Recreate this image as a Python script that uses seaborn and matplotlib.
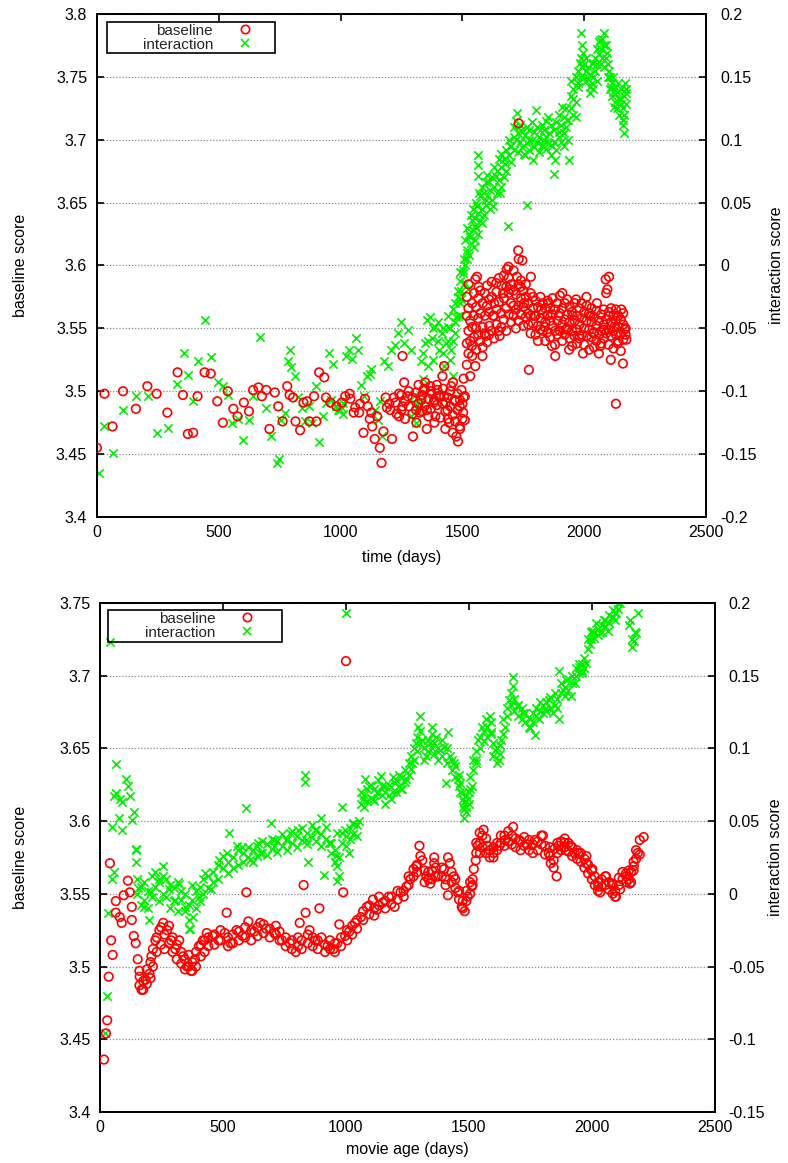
import matplotlib
matplotlib.use("Agg")
import matplotlib.pyplot as plt
from matplotlib.lines import Line2D
from matplotlib.patches import Rectangle
from matplotlib.ticker import FormatStrFormatter
import seaborn as sns
import pandas as pd

# ---------------------------------------------------------------- data
# top panel: (time in days, baseline score)
top_baseline = [
    (0, 3.455), (31, 3.498), (64, 3.472), (107, 3.500), (160, 3.486), (207, 3.504),
    (245, 3.498), (289, 3.483), (331, 3.515), (353, 3.497), (373, 3.466), (395, 3.467),
    (413, 3.496), (442, 3.515), (467, 3.514), (494, 3.492), (517, 3.475), (537, 3.500),
    (560, 3.486), (577, 3.480), (603, 3.491), (624, 3.484), (641, 3.501), (663, 3.503),
    (677, 3.496), (695, 3.501), (708, 3.470), (730, 3.499), (744, 3.488), (762, 3.476),
    (781, 3.504), (791, 3.497), (805, 3.495), (815, 3.476), (834, 3.469), (848, 3.491),
    (862, 3.492), (872, 3.476), (891, 3.496), (901, 3.476), (912, 3.515), (933, 3.511),
    (940, 3.495), (958, 3.491), (983, 3.488), (1005, 3.491), (1019, 3.496), (1037, 3.498),
    (1040, 3.494), (1054, 3.483), (1060, 3.487), (1076, 3.483), (1080, 3.490), (1094, 3.467),
    (1100, 3.494), (1111, 3.488), (1120, 3.478), (1126, 3.483), (1130, 3.472), (1140, 3.462),
    (1150, 3.480), (1161, 3.455), (1168, 3.443), (1176, 3.468), (1185, 3.495), (1190, 3.487),
    (1200, 3.490), (1204, 3.485), (1211, 3.462), (1218, 3.495), (1226, 3.491), (1230, 3.482),
    (1240, 3.480), (1240, 3.498), (1250, 3.497), (1250, 3.485), (1254, 3.528), (1254, 3.488),
    (1261, 3.507), (1265, 3.492), (1265, 3.478), (1275, 3.496), (1280, 3.488), (1280, 3.500),
    (1295, 3.495), (1295, 3.482), (1297, 3.464), (1310, 3.499), (1310, 3.485), (1311, 3.475),
    (1320, 3.490), (1320, 3.505), (1325, 3.483), (1332, 3.493), (1335, 3.497), (1335, 3.484),
    (1340, 3.501), (1345, 3.502), (1345, 3.488), (1347, 3.507), (1354, 3.485), (1354, 3.470),
    (1360, 3.494), (1360, 3.480), (1368, 3.504), (1370, 3.500), (1370, 3.486), (1375, 3.498),
    (1382, 3.491), (1385, 3.493), (1385, 3.475), (1389, 3.480), (1395, 3.505), (1395, 3.489),
    (1397, 3.501), (1404, 3.496), (1410, 3.497), (1410, 3.479), (1418, 3.512), (1420, 3.490),
    (1420, 3.502), (1425, 3.520), (1425, 3.496), (1430, 3.484), (1430, 3.470), (1432, 3.491),
    (1439, 3.485), (1440, 3.495), (1440, 3.478), (1446, 3.475), (1450, 3.488), (1450, 3.500),
    (1454, 3.504), (1460, 3.481), (1460, 3.467), (1461, 3.507), (1468, 3.493), (1470, 3.492),
    (1470, 3.476), (1475, 3.464), (1480, 3.485), (1480, 3.498), (1482, 3.460), (1489, 3.488),
    (1489, 3.472), (1490, 3.493), (1490, 3.470), (1496, 3.501), (1500, 3.478), (1500, 3.490),
    (1503, 3.483), (1505, 3.510), (1505, 3.495), (1510, 3.496), (1510, 3.477),
    (1518, 3.560), (1518, 3.538), (1518, 3.575), (1518, 3.521), (1525, 3.548), (1525, 3.585),
    (1525, 3.530), (1525, 3.566), (1532, 3.556), (1532, 3.540), (1532, 3.512), (1539, 3.536),
    (1540, 3.570), (1540, 3.528), (1540, 3.551), (1546, 3.560), (1548, 3.543), (1548, 3.578),
    (1553, 3.520), (1553, 3.589), (1556, 3.533), (1556, 3.567), (1556, 3.550), (1560, 3.591),
    (1565, 3.574), (1565, 3.545), (1565, 3.558), (1567, 3.583), (1574, 3.540), (1574, 3.562),
    (1574, 3.580), (1582, 3.528), (1583, 3.551), (1583, 3.570), (1583, 3.535), (1592, 3.560),
    (1592, 3.578), (1592, 3.546), (1596, 3.544), (1601, 3.568), (1601, 3.539), (1601, 3.584),
    (1610, 3.552), (1610, 3.563), (1610, 3.573), (1610, 3.545), (1620, 3.575), (1620, 3.548),
    (1620, 3.587), (1625, 3.560), (1630, 3.560), (1630, 3.542), (1630, 3.570), (1639, 3.586),
    (1640, 3.553), (1640, 3.579), (1640, 3.565), (1650, 3.571), (1650, 3.548), (1650, 3.590),
    (1653, 3.544), (1660, 3.562), (1660, 3.584), (1660, 3.551), (1667, 3.578), (1670, 3.574),
    (1670, 3.557), (1670, 3.592), (1680, 3.566), (1680, 3.583), (1680, 3.548), (1682, 3.597),
    (1689, 3.599), (1690, 3.578), (1690, 3.561), (1690, 3.590), (1696, 3.581), (1700, 3.570),
    (1700, 3.555), (1700, 3.585), (1710, 3.580), (1710, 3.560), (1710, 3.596), (1710, 3.568),
    (1720, 3.565), (1720, 3.577), (1720, 3.550), (1724, 3.591), (1729, 3.612), (1730, 3.585),
    (1730, 3.568), (1730, 3.556), (1731, 3.713), (1731, 3.605), (1739, 3.583), (1740, 3.574),
    (1740, 3.561), (1740, 3.588), (1746, 3.604), (1750, 3.567), (1750, 3.580), (1750, 3.552),
    (1753, 3.570), (1760, 3.559), (1760, 3.575), (1760, 3.585), (1770, 3.570), (1770, 3.553),
    (1770, 3.562), (1773, 3.517), (1780, 3.578), (1780, 3.560), (1780, 3.546), (1781, 3.591),
    (1790, 3.566), (1790, 3.554), (1790, 3.575), (1796, 3.560), (1800, 3.560), (1800, 3.572),
    (1800, 3.545), (1810, 3.567), (1810, 3.552), (1810, 3.540), (1820, 3.575), (1820, 3.558),
    (1820, 3.549), (1824, 3.565), (1830, 3.562), (1830, 3.548), (1830, 3.570), (1838, 3.551),
    (1840, 3.555), (1840, 3.566), (1840, 3.540), (1850, 3.572), (1850, 3.560), (1850, 3.547),
    (1853, 3.570), (1860, 3.556), (1860, 3.566), (1860, 3.543), (1867, 3.536), (1870, 3.561),
    (1870, 3.552), (1870, 3.574), (1880, 3.548), (1880, 3.565), (1880, 3.537), (1881, 3.528),
    (1890, 3.570), (1890, 3.556), (1890, 3.545), (1895, 3.560), (1900, 3.562), (1900, 3.548),
    (1900, 3.576), (1910, 3.553), (1910, 3.566), (1910, 3.540), (1910, 3.578), (1920, 3.570),
    (1920, 3.557), (1920, 3.545), (1924, 3.549), (1930, 3.561), (1930, 3.550), (1930, 3.573),
    (1938, 3.533), (1940, 3.555), (1940, 3.542), (1940, 3.567), (1950, 3.563), (1950, 3.548),
    (1950, 3.536), (1952, 3.560), (1960, 3.570), (1960, 3.556), (1960, 3.544), (1967, 3.573),
    (1970, 3.560), (1970, 3.549), (1970, 3.538), (1980, 3.566), (1980, 3.553), (1980, 3.542),
    (1981, 3.544), (1990, 3.558), (1990, 3.545), (1990, 3.570), (1995, 3.530), (2000, 3.563),
    (2000, 3.550), (2000, 3.537), (2009, 3.575), (2010, 3.556), (2010, 3.544), (2010, 3.568),
    (2020, 3.562), (2020, 3.549), (2020, 3.533), (2024, 3.560), (2030, 3.555), (2030, 3.543),
    (2030, 3.566), (2038, 3.546), (2040, 3.559), (2040, 3.547), (2040, 3.535), (2050, 3.564),
    (2050, 3.552), (2050, 3.540), (2052, 3.570), (2060, 3.556), (2060, 3.545), (2060, 3.530),
    (2066, 3.536), (2070, 3.561), (2070, 3.548), (2070, 3.538), (2080, 3.553), (2080, 3.565),
    (2080, 3.542), (2081, 3.549), (2088, 3.589), (2090, 3.578), (2090, 3.557), (2090, 3.546),
    (2095, 3.581), (2100, 3.560), (2100, 3.549), (2100, 3.537), (2102, 3.591), (2102, 3.563),
    (2109, 3.525), (2110, 3.555), (2110, 3.544), (2110, 3.566), (2120, 3.560), (2120, 3.548),
    (2120, 3.534), (2123, 3.551), (2130, 3.490), (2130, 3.556), (2130, 3.545), (2130, 3.565),
    (2138, 3.538), (2140, 3.551), (2140, 3.540), (2140, 3.560), (2150, 3.557), (2150, 3.546),
    (2150, 3.532), (2152, 3.565), (2159, 3.522), (2160, 3.553), (2160, 3.541), (2160, 3.562),
    (2166, 3.549), (2170, 3.550), (2170, 3.545), (2173, 3.541),
]

# top panel: (time in days, interaction score)
top_interaction = [
    (7, -0.165), (31, -0.128), (64, -0.149), (107, -0.115), (160, -0.104), (211, -0.104),
    (245, -0.133), (292, -0.129), (328, -0.094), (356, -0.070), (373, -0.087), (395, -0.108),
    (416, -0.076), (442, -0.043), (467, -0.073), (496, -0.093), (516, -0.096), (539, -0.103),
    (556, -0.125), (577, -0.122), (599, -0.139), (623, -0.123), (641, -0.104), (670, -0.057),
    (694, -0.113), (713, -0.136), (741, -0.157), (748, -0.154), (755, -0.123), (770, -0.117),
    (784, -0.076), (791, -0.067), (798, -0.081), (812, -0.088), (827, -0.105), (841, -0.113),
    (855, -0.124), (869, -0.112), (884, -0.125), (901, -0.096), (912, -0.140), (926, -0.120),
    (940, -0.109), (952, -0.070), (962, -0.107), (969, -0.078), (983, -0.112), (990, -0.115),
    (998, -0.115), (1005, -0.113), (1010, -0.118), (1012, -0.109), (1023, -0.072), (1033, -0.067),
    (1047, -0.074), (1062, -0.058), (1072, -0.067), (1083, -0.095), (1097, -0.104), (1109, -0.088),
    (1119, -0.086), (1126, -0.082), (1140, -0.115), (1154, -0.123), (1161, -0.108), (1168, -0.136),
    (1180, -0.076), (1194, -0.080), (1208, -0.067), (1223, -0.063), (1237, -0.054), (1247, -0.045),
    (1261, -0.062), (1275, -0.051), (1290, -0.067), (1290, -0.120), (1300, -0.104), (1305, -0.110),
    (1308, -0.125), (1318, -0.115), (1320, -0.109), (1332, -0.076), (1340, -0.070), (1340, -0.090),
    (1347, -0.062), (1354, -0.043), (1360, -0.060), (1360, -0.080), (1368, -0.041), (1375, -0.058),
    (1380, -0.050), (1380, -0.075), (1389, -0.049), (1400, -0.060), (1400, -0.045), (1404, -0.067),
    (1418, -0.054), (1420, -0.070), (1420, -0.050), (1425, -0.080), (1432, -0.062), (1439, -0.049),
    (1440, -0.060), (1440, -0.040), (1450, -0.050), (1450, -0.075), (1454, -0.067), (1460, -0.035),
    (1460, -0.060), (1461, -0.088), (1468, -0.054), (1470, -0.045), (1470, -0.030), (1475, -0.041),
    (1480, -0.040), (1480, -0.020), (1482, -0.025), (1489, -0.012), (1490, -0.030), (1490, -0.005),
    (1495, -0.020), (1495, -0.040), (1496, -0.027), (1503, -0.004), (1503, -0.006), (1505, 0.005),
    (1505, -0.015), (1510, -0.014), (1512, 0.020), (1512, 0.000), (1518, 0.005), (1518, 0.010),
    (1520, 0.012), (1520, 0.030), (1525, -0.019), (1528, 0.025), (1528, 0.008), (1532, 0.023),
    (1535, 0.040), (1535, 0.018), (1539, 0.036), (1542, 0.028), (1542, 0.045), (1546, 0.015),
    (1550, 0.038), (1550, 0.020), (1553, 0.031), (1557, 0.050), (1557, 0.030), (1560, 0.047),
    (1563, 0.088), (1563, 0.080), (1563, 0.071), (1565, 0.042), (1565, 0.025), (1567, 0.058),
    (1572, 0.055), (1572, 0.035), (1580, 0.045), (1580, 0.062), (1582, 0.034), (1588, 0.040),
    (1588, 0.058), (1595, 0.066), (1595, 0.048), (1596, 0.052), (1603, 0.055), (1603, 0.072),
    (1610, 0.066), (1612, 0.060), (1612, 0.045), (1620, 0.070), (1620, 0.052), (1625, 0.047),
    (1630, 0.062), (1630, 0.078), (1639, 0.071), (1640, 0.075), (1640, 0.058), (1650, 0.068),
    (1650, 0.085), (1653, 0.058), (1660, 0.089), (1660, 0.078), (1660, 0.062), (1670, 0.085),
    (1670, 0.070), (1674, 0.081), (1680, 0.092), (1680, 0.075), (1689, 0.031), (1690, 0.088),
    (1690, 0.100), (1696, 0.095), (1700, 0.095), (1700, 0.082), (1710, 0.102), (1710, 0.110),
    (1710, 0.092), (1718, 0.100), (1718, 0.115), (1724, 0.121), (1728, 0.105), (1728, 0.090),
    (1738, 0.098), (1738, 0.112), (1739, 0.108), (1745, 0.094), (1745, 0.106), (1753, 0.089),
    (1755, 0.104), (1755, 0.088), (1765, 0.097), (1765, 0.110), (1767, 0.048), (1774, 0.100),
    (1775, 0.108), (1775, 0.092), (1785, 0.100), (1785, 0.114), (1788, 0.084), (1795, 0.094),
    (1795, 0.106), (1803, 0.124), (1805, 0.110), (1805, 0.098), (1815, 0.102), (1815, 0.090),
    (1817, 0.108), (1825, 0.112), (1825, 0.096), (1831, 0.095), (1835, 0.100), (1835, 0.108),
    (1845, 0.093), (1845, 0.115), (1845, 0.102), (1853, 0.118), (1855, 0.105), (1855, 0.097),
    (1865, 0.112), (1865, 0.088), (1867, 0.095), (1874, 0.073), (1875, 0.098), (1875, 0.108),
    (1881, 0.084), (1885, 0.092), (1885, 0.114), (1895, 0.102), (1895, 0.106), (1895, 0.120),
    (1905, 0.112), (1905, 0.098), (1910, 0.126), (1915, 0.118), (1915, 0.105), (1917, 0.095),
    (1925, 0.110), (1925, 0.125), (1931, 0.116), (1935, 0.100), (1935, 0.116), (1938, 0.084),
    (1945, 0.147), (1945, 0.125), (1945, 0.135), (1952, 0.132), (1955, 0.120), (1955, 0.140),
    (1965, 0.130), (1965, 0.150), (1967, 0.118), (1974, 0.142), (1975, 0.155), (1975, 0.145),
    (1981, 0.161), (1985, 0.165), (1985, 0.150), (1988, 0.185), (1992, 0.175), (1992, 0.158),
    (1995, 0.169), (2000, 0.160), (2000, 0.150), (2008, 0.165), (2008, 0.155), (2009, 0.147),
    (2015, 0.148), (2015, 0.158), (2022, 0.152), (2022, 0.142), (2024, 0.137), (2030, 0.145),
    (2030, 0.160), (2038, 0.161), (2038, 0.150), (2038, 0.140), (2045, 0.155), (2045, 0.165),
    (2052, 0.147), (2052, 0.160), (2052, 0.172), (2060, 0.168), (2060, 0.178), (2066, 0.179),
    (2068, 0.172), (2068, 0.160), (2075, 0.180), (2075, 0.165), (2081, 0.185), (2082, 0.175),
    (2082, 0.158), (2090, 0.165), (2090, 0.175), (2095, 0.169), (2098, 0.160), (2098, 0.150),
    (2102, 0.155), (2105, 0.150), (2105, 0.140), (2109, 0.142), (2112, 0.145), (2112, 0.135),
    (2120, 0.138), (2120, 0.150), (2123, 0.126), (2128, 0.130), (2128, 0.142), (2135, 0.125),
    (2135, 0.138), (2138, 0.145), (2142, 0.120), (2142, 0.132), (2150, 0.128), (2150, 0.140),
    (2152, 0.132), (2158, 0.125), (2158, 0.112), (2159, 0.116), (2163, 0.105), (2165, 0.135),
    (2165, 0.120), (2166, 0.145), (2170, 0.140), (2170, 0.128), (2173, 0.137),
]

# bottom panel: (movie age in days, baseline score)
bottom_baseline = [
    (16, 3.436), (24, 3.454), (29, 3.463), (35, 3.493), (40, 3.571), (45, 3.518), (51, 3.508),
    (64, 3.545), (64, 3.537), (80, 3.534), (88, 3.530), (96, 3.549), (113, 3.559), (121, 3.551),
    (129, 3.541), (129, 3.532), (137, 3.521), (145, 3.516), (153, 3.505), (160, 3.487),
    (160, 3.497), (161, 3.493), (169, 3.484), (175, 3.490), (175, 3.484), (185, 3.491),
    (190, 3.498), (190, 3.488), (201, 3.495), (205, 3.503), (205, 3.492), (209, 3.507),
    (215, 3.512), (215, 3.500), (225, 3.518), (230, 3.520), (230, 3.510), (241, 3.525),
    (248, 3.527), (248, 3.515), (257, 3.530), (262, 3.522), (262, 3.512), (273, 3.525),
    (280, 3.528), (280, 3.516), (289, 3.518), (295, 3.520), (295, 3.510), (306, 3.512),
    (312, 3.515), (312, 3.505), (322, 3.518), (330, 3.510), (330, 3.502), (338, 3.507),
    (345, 3.505), (345, 3.498), (354, 3.500), (360, 3.500), (360, 3.508), (370, 3.497),
    (375, 3.503), (375, 3.497), (386, 3.505), (390, 3.510), (390, 3.500), (402, 3.514),
    (410, 3.515), (410, 3.507), (418, 3.518), (425, 3.518), (425, 3.510), (434, 3.523),
    (440, 3.520), (440, 3.514), (458, 3.521), (465, 3.522), (465, 3.515), (482, 3.518),
    (490, 3.518), (490, 3.525), (507, 3.523), (515, 3.537), (520, 3.520), (520, 3.514),
    (531, 3.516), (540, 3.522), (540, 3.516), (555, 3.525), (565, 3.524), (565, 3.518),
    (579, 3.521), (590, 3.520), (590, 3.527), (595, 3.551), (603, 3.531), (615, 3.525),
    (615, 3.518), (627, 3.524), (640, 3.527), (640, 3.521), (651, 3.530), (665, 3.523),
    (665, 3.529), (675, 3.526), (690, 3.526), (690, 3.520), (708, 3.523), (715, 3.522),
    (715, 3.528), (730, 3.518), (730, 3.524), (740, 3.518), (755, 3.520), (755, 3.514),
    (772, 3.516), (780, 3.518), (780, 3.512), (796, 3.510), (805, 3.514), (805, 3.520),
    (812, 3.530), (820, 3.518), (820, 3.512), (828, 3.556), (836, 3.537), (845, 3.516),
    (845, 3.522), (852, 3.525), (865, 3.514), (865, 3.520), (876, 3.518), (885, 3.518),
    (885, 3.512), (892, 3.540), (900, 3.520), (915, 3.515), (915, 3.510), (925, 3.514),
    (935, 3.512), (935, 3.518), (949, 3.512), (955, 3.510), (955, 3.516), (965, 3.516),
    (973, 3.529), (980, 3.514), (980, 3.520), (989, 3.551), (997, 3.521), (1000, 3.710),
    (1005, 3.518), (1005, 3.525), (1013, 3.524), (1025, 3.522), (1025, 3.528), (1037, 3.530),
    (1045, 3.526), (1045, 3.532), (1061, 3.534), (1070, 3.532), (1070, 3.538), (1085, 3.541),
    (1095, 3.536), (1095, 3.542), (1110, 3.546), (1115, 3.540), (1115, 3.535), (1126, 3.539),
    (1135, 3.542), (1135, 3.548), (1150, 3.544), (1160, 3.545), (1160, 3.540), (1174, 3.548),
    (1185, 3.548), (1185, 3.543), (1198, 3.541), (1210, 3.546), (1210, 3.552), (1222, 3.551),
    (1235, 3.552), (1235, 3.548), (1246, 3.555), (1255, 3.556), (1255, 3.562), (1262, 3.560),
    (1275, 3.562), (1275, 3.567), (1286, 3.569), (1290, 3.570), (1290, 3.565), (1299, 3.583),
    (1303, 3.576), (1311, 3.573), (1320, 3.566), (1320, 3.558), (1327, 3.562), (1335, 3.560),
    (1335, 3.565), (1343, 3.557), (1350, 3.566), (1350, 3.560), (1359, 3.571), (1359, 3.575),
    (1365, 3.568), (1365, 3.562), (1375, 3.562), (1390, 3.562), (1390, 3.568), (1399, 3.567),
    (1405, 3.560), (1405, 3.556), (1415, 3.549), (1415, 3.575), (1423, 3.571), (1430, 3.565),
    (1430, 3.558), (1439, 3.562), (1445, 3.560), (1445, 3.554), (1455, 3.551), (1460, 3.552),
    (1460, 3.546), (1471, 3.541), (1475, 3.545), (1475, 3.540), (1483, 3.538), (1490, 3.545),
    (1490, 3.552), (1495, 3.548), (1505, 3.550), (1505, 3.558), (1512, 3.555), (1515, 3.560),
    (1515, 3.556), (1520, 3.567), (1528, 3.573), (1530, 3.578), (1530, 3.585), (1536, 3.583),
    (1544, 3.592), (1545, 3.585), (1545, 3.578), (1555, 3.590), (1555, 3.582), (1560, 3.594),
    (1570, 3.588), (1570, 3.578), (1576, 3.583), (1585, 3.580), (1585, 3.575), (1600, 3.578),
    (1600, 3.575), (1600, 3.582), (1615, 3.580), (1615, 3.585), (1624, 3.583), (1630, 3.585),
    (1630, 3.590), (1645, 3.590), (1645, 3.583), (1648, 3.587), (1660, 3.593), (1660, 3.586),
    (1675, 3.590), (1675, 3.584), (1680, 3.596), (1690, 3.588), (1690, 3.582), (1705, 3.587),
    (1710, 3.586), (1710, 3.580), (1725, 3.583), (1725, 3.589), (1737, 3.584), (1745, 3.587),
    (1745, 3.580), (1760, 3.584), (1760, 3.578), (1769, 3.587), (1780, 3.586), (1780, 3.580),
    (1795, 3.590), (1795, 3.584), (1801, 3.590), (1810, 3.583), (1810, 3.577), (1825, 3.578),
    (1830, 3.576), (1830, 3.582), (1833, 3.571), (1845, 3.573), (1845, 3.568), (1849, 3.581),
    (1857, 3.562), (1860, 3.578), (1860, 3.585), (1865, 3.583), (1875, 3.586), (1875, 3.580),
    (1889, 3.585), (1890, 3.588), (1890, 3.582), (1897, 3.580), (1905, 3.585), (1905, 3.579),
    (1914, 3.583), (1920, 3.582), (1920, 3.576), (1930, 3.578), (1940, 3.580), (1940, 3.574),
    (1946, 3.578), (1955, 3.578), (1955, 3.572), (1970, 3.574), (1970, 3.568), (1978, 3.576),
    (1978, 3.571), (1985, 3.570), (1985, 3.564), (2000, 3.566), (2000, 3.560), (2002, 3.567),
    (2012, 3.562), (2012, 3.556), (2025, 3.558), (2025, 3.552), (2026, 3.555), (2034, 3.551),
    (2040, 3.560), (2040, 3.555), (2055, 3.562), (2055, 3.556), (2058, 3.562), (2070, 3.558),
    (2070, 3.553), (2082, 3.557), (2085, 3.556), (2085, 3.550), (2095, 3.552), (2095, 3.548),
    (2098, 3.548), (2110, 3.556), (2110, 3.561), (2115, 3.553), (2125, 3.560), (2125, 3.565),
    (2139, 3.564), (2140, 3.562), (2140, 3.558), (2150, 3.566), (2150, 3.560), (2155, 3.557),
    (2160, 3.565), (2160, 3.558), (2170, 3.572), (2170, 3.566), (2171, 3.569), (2180, 3.574),
    (2180, 3.580), (2187, 3.578), (2195, 3.587), (2195, 3.577), (2211, 3.589),
]

# bottom panel: (movie age in days, interaction score)
bottom_interaction = [
    (19, -0.096), (29, -0.070), (32, -0.013), (40, 0.173), (48, 0.046), (48, 0.010),
    (56, 0.067), (56, 0.015), (64, 0.089), (64, 0.069), (77, 0.052), (80, 0.065), (88, 0.063),
    (88, 0.044), (105, 0.079), (113, 0.074), (121, 0.067), (129, 0.051), (137, 0.056),
    (145, 0.031), (145, 0.030), (145, 0.022), (150, 0.000), (150, 0.010), (153, 0.004),
    (165, -0.008), (165, 0.005), (177, -0.009), (180, 0.008), (180, -0.004), (195, -0.010),
    (195, 0.002), (201, -0.018), (209, 0.001), (210, 0.012), (210, -0.002), (225, 0.005),
    (225, 0.015), (240, -0.005), (240, 0.008), (241, 0.010), (255, 0.012), (255, 0.000),
    (257, 0.019), (270, -0.002), (270, 0.010), (281, 0.003), (285, 0.006), (285, -0.010),
    (300, -0.005), (300, 0.004), (306, -0.004), (315, 0.008), (315, -0.012), (322, 0.007),
    (330, -0.004), (330, 0.002), (345, -0.012), (345, 0.000), (346, -0.009), (360, -0.008),
    (360, -0.018), (362, -0.024), (367, -0.024), (375, -0.004), (375, 0.006), (378, -0.016),
    (390, -0.010), (390, 0.002), (402, -0.002), (405, 0.005), (405, -0.005), (420, 0.010),
    (420, 0.000), (426, 0.014), (440, 0.012), (440, 0.004), (450, 0.003), (460, 0.015),
    (460, 0.008), (480, 0.020), (480, 0.010), (482, 0.023), (498, 0.026), (500, 0.018),
    (515, 0.028), (520, 0.022), (520, 0.014), (523, 0.042), (540, 0.025), (540, 0.018),
    (555, 0.033), (560, 0.020), (560, 0.030), (579, 0.032), (580, 0.028), (580, 0.022),
    (592, 0.059), (600, 0.025), (600, 0.032), (611, 0.023), (620, 0.030), (620, 0.022),
    (640, 0.033), (640, 0.026), (643, 0.035), (651, 0.028), (660, 0.028), (660, 0.036),
    (680, 0.034), (680, 0.027), (695, 0.049), (700, 0.031), (700, 0.038), (708, 0.033),
    (708, 0.037), (720, 0.036), (720, 0.029), (740, 0.033), (740, 0.041), (756, 0.037),
    (760, 0.038), (760, 0.030), (772, 0.042), (780, 0.035), (780, 0.043), (800, 0.040),
    (800, 0.032), (804, 0.044), (820, 0.037), (820, 0.045), (833, 0.082), (833, 0.077),
    (836, 0.037), (840, 0.042), (840, 0.034), (844, 0.022), (860, 0.039), (860, 0.047),
    (876, 0.044), (880, 0.044), (880, 0.036), (900, 0.041), (900, 0.033), (900, 0.052),
    (909, 0.013), (920, 0.038), (920, 0.046), (933, 0.035), (940, 0.035), (940, 0.028),
    (955, 0.030), (955, 0.022), (960, 0.026), (965, 0.019), (965, 0.009), (965, 0.042),
    (970, 0.025), (970, 0.012), (984, 0.060), (985, 0.035), (985, 0.042), (997, 0.044),
    (1000, 0.193), (1000, 0.040), (1000, 0.033), (1013, 0.028), (1015, 0.045), (1015, 0.038),
    (1029, 0.049), (1030, 0.041), (1030, 0.048), (1045, 0.047), (1045, 0.040), (1053, 0.050),
    (1060, 0.062), (1060, 0.070), (1069, 0.065), (1075, 0.068), (1075, 0.060), (1077, 0.079),
    (1085, 0.072), (1085, 0.064), (1093, 0.074), (1100, 0.066), (1100, 0.075), (1110, 0.065),
    (1115, 0.072), (1115, 0.064), (1126, 0.069), (1130, 0.070), (1130, 0.078), (1142, 0.081),
    (1145, 0.074), (1145, 0.068), (1158, 0.074), (1160, 0.070), (1160, 0.062), (1175, 0.075),
    (1175, 0.068), (1182, 0.065), (1190, 0.070), (1190, 0.080), (1198, 0.076), (1205, 0.078),
    (1205, 0.070), (1215, 0.074), (1215, 0.082), (1222, 0.072), (1230, 0.080), (1230, 0.072),
    (1240, 0.085), (1240, 0.077), (1246, 0.079), (1255, 0.090), (1255, 0.082), (1265, 0.095),
    (1265, 0.086), (1270, 0.090), (1278, 0.100), (1278, 0.092), (1286, 0.104), (1290, 0.108),
    (1290, 0.098), (1294, 0.115), (1300, 0.104), (1300, 0.112), (1303, 0.122), (1311, 0.106),
    (1318, 0.100), (1318, 0.092), (1327, 0.095), (1335, 0.098), (1335, 0.106), (1343, 0.104),
    (1351, 0.115), (1352, 0.100), (1352, 0.110), (1360, 0.096), (1360, 0.104), (1367, 0.108),
    (1375, 0.100), (1375, 0.092), (1383, 0.099), (1390, 0.106), (1390, 0.095), (1399, 0.101),
    (1407, 0.076), (1410, 0.100), (1410, 0.090), (1415, 0.111), (1423, 0.095), (1430, 0.092),
    (1430, 0.085), (1439, 0.090), (1445, 0.088), (1445, 0.080), (1455, 0.079), (1460, 0.082),
    (1460, 0.074), (1465, 0.076), (1465, 0.070), (1471, 0.069), (1475, 0.065), (1475, 0.060),
    (1479, 0.063), (1482, 0.058), (1482, 0.052), (1487, 0.056), (1490, 0.060), (1490, 0.068),
    (1495, 0.065), (1500, 0.070), (1500, 0.062), (1505, 0.080), (1505, 0.072), (1512, 0.074),
    (1518, 0.085), (1518, 0.092), (1528, 0.092), (1530, 0.098), (1530, 0.090), (1536, 0.106),
    (1545, 0.108), (1545, 0.100), (1552, 0.115), (1560, 0.112), (1560, 0.105), (1568, 0.120),
    (1575, 0.115), (1575, 0.108), (1584, 0.122), (1590, 0.110), (1590, 0.118), (1592, 0.111),
    (1600, 0.104), (1600, 0.095), (1608, 0.099), (1615, 0.100), (1615, 0.090), (1624, 0.092),
    (1628, 0.102), (1628, 0.096), (1632, 0.106), (1640, 0.110), (1640, 0.120), (1648, 0.115),
    (1655, 0.128), (1655, 0.122), (1664, 0.133), (1670, 0.138), (1670, 0.130), (1680, 0.143),
    (1680, 0.149), (1685, 0.134), (1685, 0.126), (1696, 0.129), (1700, 0.130), (1700, 0.122),
    (1715, 0.128), (1715, 0.120), (1721, 0.124), (1730, 0.124), (1730, 0.118), (1745, 0.115),
    (1750, 0.120), (1750, 0.114), (1760, 0.118), (1760, 0.124), (1769, 0.109), (1775, 0.122),
    (1775, 0.128), (1785, 0.120), (1790, 0.126), (1790, 0.132), (1800, 0.130), (1800, 0.124),
    (1809, 0.127), (1815, 0.132), (1815, 0.126), (1825, 0.133), (1830, 0.135), (1830, 0.128),
    (1841, 0.124), (1850, 0.130), (1850, 0.138), (1860, 0.134), (1860, 0.128), (1865, 0.120),
    (1865, 0.153), (1875, 0.138), (1875, 0.145), (1881, 0.140), (1890, 0.142), (1890, 0.136),
    (1897, 0.147), (1905, 0.140), (1905, 0.148), (1914, 0.136), (1920, 0.145), (1920, 0.150),
    (1930, 0.145), (1935, 0.150), (1935, 0.155), (1946, 0.156), (1950, 0.152), (1950, 0.158),
    (1960, 0.158), (1960, 0.153), (1962, 0.152), (1970, 0.162), (1970, 0.155), (1978, 0.159),
    (1985, 0.168), (1985, 0.175), (1994, 0.172), (1995, 0.175), (1995, 0.180), (2002, 0.181),
    (2010, 0.180), (2010, 0.176), (2018, 0.186), (2025, 0.182), (2025, 0.178), (2034, 0.179),
    (2040, 0.185), (2040, 0.180), (2050, 0.188), (2055, 0.184), (2055, 0.188), (2066, 0.181),
    (2070, 0.186), (2070, 0.192), (2082, 0.190), (2085, 0.190), (2085, 0.195), (2095, 0.193),
    (2095, 0.188), (2098, 0.193), (2105, 0.196), (2105, 0.200), (2115, 0.200), (2150, 0.185),
    (2155, 0.188), (2165, 0.175), (2165, 0.170), (2171, 0.174), (2175, 0.180), (2179, 0.179),
    (2187, 0.193),
]

top_baseline_ticks = [3.4, 3.45, 3.5, 3.55, 3.6, 3.65, 3.7, 3.75, 3.8]
top_interaction_ticks = [-0.2, -0.15, -0.1, -0.05, 0, 0.05, 0.1, 0.15, 0.2]
bottom_baseline_ticks = [3.4, 3.45, 3.5, 3.55, 3.6, 3.65, 3.7, 3.75]
bottom_interaction_ticks = [-0.15, -0.1, -0.05, 0, 0.05, 0.1, 0.15, 0.2]
day_ticks = [0, 500, 1000, 1500, 2000, 2500]

# ---------------------------------------------------------------- style
sns.set_theme(style="white")
plt.rcParams["font.family"] = ["Liberation Sans", "DejaVu Sans"]
plt.rcParams["axes.unicode_minus"] = False

RED = "#ff0000"
GREEN = "#00ee00"
TICK_FS = 11.5
LABEL_FS = 11.5
KEY_FS = 11


def draw_panel(fig, rect, base_pts, inter_pts, xname, xlabel,
               left_ticks, right_ticks, xlabel_y, ylabel_x, y2label_x,
               box, key_x):
    base = pd.DataFrame(base_pts, columns=[xname, "baseline"])
    inter = pd.DataFrame(inter_pts, columns=[xname, "interaction"])

    ax = fig.add_axes(rect)
    tw = ax.twinx()

    sns.scatterplot(data=inter, x=xname, y="interaction", ax=tw, marker="x",
                    color=GREEN, s=36, linewidth=1.2, legend=False, zorder=2)
    sns.scatterplot(data=base, x=xname, y="baseline", ax=ax, marker="o",
                    facecolors="none", edgecolor=RED, s=38, linewidth=1.2,
                    legend=False, zorder=3)

    # baseline drawn on top of the interaction layer
    ax.set_zorder(tw.get_zorder() + 1)
    ax.patch.set_visible(False)

    ax.set_xlim(day_ticks[0], day_ticks[-1])
    ax.set_xticks(day_ticks)
    ax.set_ylim(left_ticks[0], left_ticks[-1])
    ax.set_yticks(left_ticks)
    tw.set_ylim(right_ticks[0], right_ticks[-1])
    tw.set_yticks(right_ticks)
    ax.yaxis.set_major_formatter(FormatStrFormatter("%g"))
    tw.yaxis.set_major_formatter(FormatStrFormatter("%g"))

    # dotted grid behind the points
    tw.set_axisbelow(True)
    tw.grid(True, axis="both", linestyle=(0, (1, 1.5)), color="#8a8a8a", linewidth=0.9)
    ax.grid(False)
    tw.set_xlabel("")
    tw.tick_params(axis="x", which="both", bottom=False, top=False,
                   labelbottom=False, labeltop=False)

    ax.tick_params(axis="x", direction="in", length=5, width=1.2, top=True,
                   labelsize=TICK_FS, pad=6, colors="black")
    ax.tick_params(axis="y", direction="in", length=5, width=1.2, left=True,
                   right=False, labelsize=TICK_FS, pad=7, colors="black")
    tw.tick_params(axis="y", direction="in", length=5, width=1.2, right=True,
                   labelsize=TICK_FS, pad=10, colors="black")

    for a in (ax, tw):
        for sp in a.spines.values():
            sp.set_visible(True)
            sp.set_color("black")
            sp.set_linewidth(1.3)

    ax.set_xlabel(xlabel, fontsize=LABEL_FS, color="black")
    ax.xaxis.set_label_coords(0.5, xlabel_y)
    ax.set_ylabel("baseline score", fontsize=LABEL_FS, color="black")
    ax.yaxis.set_label_coords(ylabel_x, 0.5)
    tw.set_ylabel("interaction score", fontsize=LABEL_FS, color="black")
    tw.yaxis.set_label_coords(y2label_x, 0.5)

    # gnuplot style key: labels right aligned, sample to the right
    x0, y0, x1, y1 = box
    ax.add_patch(Rectangle((x0, y0), x1 - x0, y1 - y0, transform=ax.transAxes,
                           fill=False, edgecolor="black", linewidth=1.2,
                           zorder=5, clip_on=False))
    handles = [
        Line2D([], [], linestyle="none", marker="o", markerfacecolor="none",
               markeredgecolor=RED, markersize=6, markeredgewidth=1.2),
        Line2D([], [], linestyle="none", marker="x", color=GREEN,
               markersize=6, markeredgewidth=1.2),
    ]
    ax.legend(handles, ["baseline", "interaction"], loc="upper right",
              bbox_to_anchor=(key_x, y1 - 0.003),
              frameon=False, markerfirst=False, handlelength=1.0,
              handletextpad=1.6, borderpad=0.0, borderaxespad=0.0,
              labelspacing=0.0, fontsize=KEY_FS)
    return ax, tw


fig = plt.figure(figsize=(7.88, 11.63), dpi=100)
fig.patch.set_facecolor("white")

draw_panel(fig, [0.123, 0.5555, 0.773, 0.4325], top_baseline, top_interaction,
           "time", "time (days)", top_baseline_ticks, top_interaction_ticks,
           xlabel_y=-0.066, ylabel_x=-0.113, y2label_x=1.103,
           box=(0.0164, 0.9225, 0.2922, 0.984), key_x=0.256)

draw_panel(fig, [0.127, 0.0439, 0.780, 0.4377], bottom_baseline, bottom_interaction,
           "age", "movie age (days)", bottom_baseline_ticks, bottom_interaction_ticks,
           xlabel_y=-0.060, ylabel_x=-0.117, y2label_x=1.087,
           box=(0.013, 0.923, 0.296, 0.986), key_x=0.252)

fig.savefig("out.png", dpi=100)
